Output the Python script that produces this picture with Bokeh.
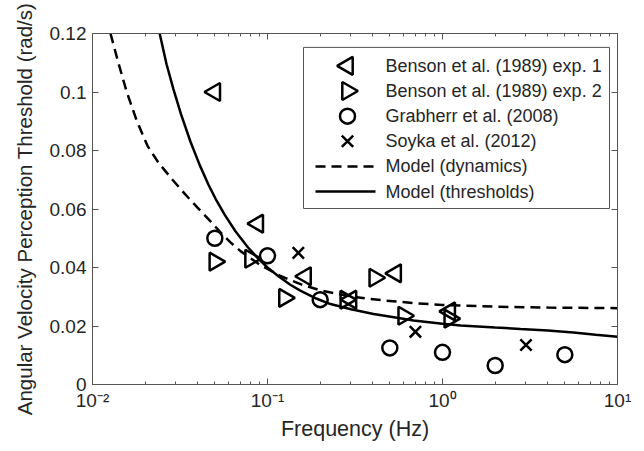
import math
from bokeh.plotting import figure
from bokeh.models import (FixedTicker, LogAxis, LinearAxis, Range1d, LinearScale,
                          NumeralTickFormatter, CustomJSTickFormatter)
from bokeh.embed import file_html
from bokeh.resources import INLINE

# ---- data ----
benson1_f = [0.05, 0.088, 0.165, 0.3, 0.54, 1.1]
benson1_v = [0.1, 0.055, 0.037, 0.029, 0.038, 0.025]

benson2_f = [0.05, 0.08, 0.125, 0.28, 0.41, 0.6, 1.1]
benson2_v = [0.042, 0.043, 0.0296, 0.029, 0.0365, 0.0235, 0.0225]

grab_f = [0.05, 0.1, 0.2, 0.5, 1.0, 2.0, 5.0]
grab_v = [0.05, 0.044, 0.029, 0.0125, 0.011, 0.0065, 0.0102]

soyka_f = [0.15, 0.7, 3.0]
soyka_v = [0.045, 0.018, 0.0135]

dyn_f = [0.01267, 0.01408, 0.01564, 0.01784, 0.02062, 0.02384, 0.02865, 0.034, 0.03981, 0.04725,
         0.05389, 0.06145, 0.07011, 0.0912, 0.1187, 0.1544, 0.2, 0.3, 0.45, 0.7, 1.0, 2.0, 4.0, 10.0]
dyn_v = [0.1200, 0.1098, 0.1003, 0.0904, 0.0816, 0.0758, 0.0700, 0.0649, 0.0605, 0.0558,
         0.0520, 0.0486, 0.0456, 0.0408, 0.0371, 0.0343, 0.0322, 0.0301, 0.0288, 0.0278, 0.0272,
         0.0266, 0.0263, 0.0261]

thr_f = [0.0242, 0.0265, 0.029, 0.032, 0.0363, 0.041, 0.046, 0.0505, 0.057, 0.0656, 0.077, 0.088,
         0.1, 0.116, 0.135, 0.154, 0.19, 0.229, 0.3, 0.404, 0.55, 0.683, 1.0, 1.27, 2.0, 2.79,
         4.0, 5.6, 7.5, 10.0]
thr_v = [0.120, 0.1095, 0.101, 0.0925, 0.083, 0.075, 0.0683, 0.0635, 0.058, 0.0524, 0.047, 0.0432,
         0.040, 0.0369, 0.0341, 0.0321, 0.0294, 0.0275, 0.0257, 0.0241, 0.0228, 0.0219, 0.0208, 0.0202,
         0.0195, 0.019, 0.0185, 0.0178, 0.017, 0.0163]

x_ticks = [0.01, 0.1, 1.0, 10.0]
x_tick_labels = ["10\u207b\u00b2", "10\u207b\u00b9", "10\u2070", "10\u00b9"]
y_ticks = [0, 0.02, 0.04, 0.06, 0.08, 0.1, 0.12]

x_label = "Frequency (Hz)"
y_label = "Angular Velocity Perception Threshold (rad/s)"
series_names = ["Benson et al. (1989) exp. 1", "Benson et al. (1989) exp. 2",
                "Grabherr et al. (2008)", "Soyka et al. (2012)",
                "Model (dynamics)", "Model (thresholds)"]

FONT = "Liberation Sans"
TXT = "#262626"
AX = "#555555"

FW, FH = 525, 353          # frame size in pixels
p = figure(width=92 + FW + 19, height=33 + FH + 57, x_axis_type="log",
           x_range=(0.01, 10), y_range=(0, 0.12),
           output_backend="svg", toolbar_location=None,
           min_border_left=92, min_border_right=19, min_border_top=33, min_border_bottom=57)
p.xgrid.visible = False
p.ygrid.visible = False
p.outline_line_color = None
p.background_fill_color = "white"
# pixel-space range used only to lay out the legend box
p.extra_x_ranges["px"] = Range1d(0, FW)
p.extra_y_ranges["px"] = Range1d(0, FH)
p.extra_x_scales["px"] = LinearScale()
p.extra_y_scales["px"] = LinearScale()

minor = [m * d for d in [0.01, 0.1, 1.0] for m in range(2, 10)]
xt = FixedTicker(ticks=x_ticks, minor_ticks=minor)
yt = FixedTicker(ticks=y_ticks)

def style(ax, label_size="21.5px"):
    ax.axis_line_color = AX
    ax.major_tick_line_color = AX
    ax.minor_tick_line_color = AX
    ax.major_tick_in = 6
    ax.major_tick_out = 0
    ax.minor_tick_in = 3
    ax.minor_tick_out = 0
    ax.major_label_text_font = FONT
    ax.major_label_text_font_size = "19px"
    ax.major_label_text_color = TXT
    ax.axis_label_text_font = FONT
    ax.axis_label_text_font_size = label_size
    ax.axis_label_text_font_style = "normal"
    ax.axis_label_text_color = TXT

xa = p.xaxis[0]
xa.ticker = xt
xa.formatter = CustomJSTickFormatter(args=dict(t=x_ticks, l=x_tick_labels), code="""
    let best = 0, bd = 1e9;
    for (let i = 0; i < t.length; i++) {
        const d = Math.abs(Math.log10(t[i]) - Math.log10(tick));
        if (d < bd) { bd = d; best = i; }
    }
    return l[best];
""")
xa.axis_label = x_label
xa.major_label_standoff = 5
xa.axis_label_standoff = 3
style(xa)

ya = p.yaxis[0]
ya.ticker = yt
ya.formatter = NumeralTickFormatter(format="0.[00]")
ya.axis_label = y_label
ya.major_label_standoff = 6
ya.axis_label_standoff = 11
style(ya, label_size="20.5px")
ya.minor_tick_in = 0

top = LogAxis(ticker=xt, formatter=CustomJSTickFormatter(code="return ''"))
style(top)
p.add_layout(top, "above")
right = LinearAxis(ticker=yt, formatter=CustomJSTickFormatter(code="return ''"))
style(right)
right.minor_tick_in = 0
p.add_layout(right, "right")

LINE = dict(line_color="black", line_width=2.5)
DASH = "10 6"
B1 = dict(marker="triangle", angle=math.pi / 2, size=18, fill_color=None, line_color="black", line_width=2.5)
B2 = dict(marker="triangle", angle=-math.pi / 2, size=18, fill_color=None, line_color="black", line_width=2.5)
GR = dict(marker="circle", size=15, fill_color=None, line_color="black", line_width=2.5)
SO = dict(marker="x", size=16, line_color="black", line_width=2.5)

p.line(dyn_f, dyn_v, line_dash=DASH, **LINE)
p.line(thr_f, thr_v, **LINE)
p.scatter(benson1_f, benson1_v, **B1)
p.scatter(benson2_f, benson2_v, **B2)
p.scatter(grab_f, grab_v, **GR)
p.scatter(soyka_f, soyka_v, **SO)

# ---- legend (laid out in frame pixels) ----
L, R, T, B = 211, 517, 339, 177
row_h = 25.3
rows = [T - 18.5 - i * row_h for i in range(6)]
gx = 255
lx0, lx1 = 223, 283
tx = 293
PX = dict(x_range_name="px", y_range_name="px")

p.quad(left=[L], right=[R], top=[T], bottom=[B], fill_color="white",
       line_color=AX, line_width=1, **PX)
p.scatter([gx], [rows[0]], **B1, **PX)
p.scatter([gx], [rows[1]], **B2, **PX)
p.scatter([gx], [rows[2]], **GR, **PX)
p.scatter([gx], [rows[3]], **SO, **PX)
p.line([lx0, lx1], [rows[4]] * 2, line_dash=DASH, **LINE, **PX)
p.line([lx0, lx1], [rows[5]] * 2, **LINE, **PX)
p.text([tx] * 6, rows, text=series_names, text_font={"value": FONT}, text_font_size="18px",
       text_color=TXT, text_baseline="middle", text_align="left", **PX)

open("out.html", "w").write(file_html(p, INLINE))
